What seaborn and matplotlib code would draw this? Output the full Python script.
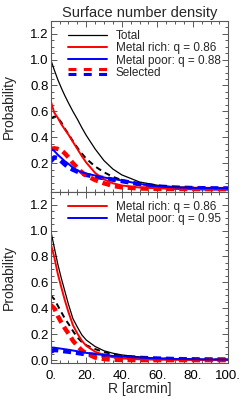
import matplotlib
matplotlib.use("Agg")
import matplotlib.pyplot as plt
import seaborn as sns
from matplotlib.lines import Line2D
from matplotlib.legend_handler import HandlerBase
from matplotlib.ticker import MultipleLocator, FixedLocator

sns.set_style("ticks")
plt.rcParams["font.family"] = ["Liberation Sans", "DejaVu Sans"]

# radius grid [arcmin]
r = [0, 2, 4, 6, 8, 10, 12.5, 15, 17.5, 20, 25, 30, 35, 40, 50, 60, 70, 80, 90, 100]

# upper panel
total_top = [1.00, 0.92, 0.845, 0.78, 0.72, 0.665, 0.60, 0.54, 0.475, 0.415, 0.31, 0.22, 0.155, 0.11, 0.055, 0.03, 0.018, 0.012, 0.008, 0.006]
rich_top = [0.68, 0.59, 0.55, 0.50, 0.46, 0.42, 0.365, 0.31, 0.255, 0.205, 0.125, 0.075, 0.045, 0.028, 0.012, 0.006, 0.004, 0.003, 0.002, 0.002]
poor_top = [0.31, 0.295, 0.265, 0.24, 0.215, 0.195, 0.165, 0.145, 0.13, 0.12, 0.105, 0.09, 0.078, 0.067, 0.04, 0.022, 0.013, 0.009, 0.007, 0.006]
total_sel_top = [0.545, 0.56, 0.55, 0.515, 0.465, 0.425, 0.37, 0.32, 0.275, 0.235, 0.175, 0.13, 0.095, 0.07, 0.04, 0.022, 0.013, 0.009, 0.007, 0.006]
rich_sel_top = [0.31, 0.315, 0.31, 0.30, 0.275, 0.245, 0.20, 0.165, 0.13, 0.105, 0.07, 0.045, 0.025, 0.014, 0.005, 0.002, 0.001, 0.001, 0.0, 0.0]
poor_sel_top = [0.215, 0.245, 0.24, 0.215, 0.19, 0.168, 0.15, 0.135, 0.12, 0.11, 0.095, 0.085, 0.073, 0.062, 0.038, 0.02, 0.012, 0.008, 0.006, 0.005]

# lower panel
total_bot = [1.00, 0.87, 0.74, 0.63, 0.53, 0.43, 0.32, 0.255, 0.195, 0.155, 0.105, 0.072, 0.053, 0.04, 0.024, 0.015, 0.01, 0.008, 0.006, 0.005]
rich_bot = [0.90, 0.795, 0.665, 0.56, 0.46, 0.37, 0.27, 0.205, 0.15, 0.11, 0.065, 0.038, 0.022, 0.013, 0.006, 0.003, 0.002, 0.001, 0.001, 0.001]
poor_bot = [0.098, 0.096, 0.092, 0.088, 0.084, 0.08, 0.074, 0.068, 0.062, 0.056, 0.047, 0.039, 0.032, 0.027, 0.019, 0.013, 0.009, 0.007, 0.005, 0.004]
total_sel_bot = [0.50, 0.47, 0.42, 0.37, 0.32, 0.28, 0.225, 0.175, 0.14, 0.115, 0.085, 0.062, 0.046, 0.035, 0.02, 0.013, 0.009, 0.007, 0.005, 0.004]
rich_sel_bot = [0.425, 0.40, 0.34, 0.29, 0.245, 0.205, 0.15, 0.11, 0.075, 0.052, 0.02, 0.008, 0.003, 0.001, 0.0, 0.0, 0.0, 0.0, 0.0, 0.0]
poor_sel_bot = [0.065, 0.078, 0.076, 0.072, 0.068, 0.065, 0.06, 0.055, 0.05, 0.046, 0.04, 0.034, 0.029, 0.024, 0.017, 0.012, 0.008, 0.006, 0.005, 0.004]

labels_top = ["Total", "Metal rich: q = 0.86", "Metal poor: q = 0.88", "Selected"]
labels_bot = ["Metal rich: q = 0.86", "Metal poor: q = 0.95"]
xtick_labels = ["0.", "20.", "40.", "60.", "80.", "100."]


class StackedDash(HandlerBase):
    def create_artists(self, legend, orig_handle, xdescent, ydescent,
                       width, height, fontsize, trans):
        out = []
        for i, c in enumerate(["red", "blue"]):
            y = height / 2 - ydescent + 1.6 - 3.2 * i
            ln = Line2D([-xdescent, width - xdescent], [y, y], color=c,
                        lw=2.2, ls=(0, (2.6, 2.4)))
            ln.set_transform(trans)
            out.append(ln)
        return out


def draw_panel(ax, total, rich, poor, total_sel, rich_sel, poor_sel):
    sns.lineplot(x=r, y=total_sel, ax=ax, color="black", lw=1.4, ls=(0, (3, 2.2)))
    sns.lineplot(x=r, y=poor_sel, ax=ax, color="blue", lw=3.2, ls=(0, (1.8, 1.1)))
    sns.lineplot(x=r, y=rich_sel, ax=ax, color="red", lw=3.2, ls=(0, (1.8, 1.1)))
    sns.lineplot(x=r, y=total, ax=ax, color="black", lw=0.9)
    sns.lineplot(x=r, y=rich, ax=ax, color="red", lw=1.4)
    sns.lineplot(x=r, y=poor, ax=ax, color="blue", lw=1.4)
    ax.set_xlim(0, 100)
    ax.set_ylim(-0.02, 1.3)
    ax.xaxis.set_major_locator(MultipleLocator(20))
    ax.xaxis.set_minor_locator(MultipleLocator(5))
    ax.yaxis.set_minor_locator(MultipleLocator(0.05))
    ax.tick_params(which="both", direction="in", top=True, right=True,
                   colors="0.35", labelcolor="black", labelsize=9.5, width=0.7)
    ax.tick_params(which="major", length=4.5)
    ax.tick_params(which="minor", length=2.5)
    ax.tick_params(axis="y", which="both", pad=1.5)
    ax.tick_params(axis="x", which="both", pad=5)
    for s in ax.spines.values():
        s.set_color("0.35")
        s.set_linewidth(0.8)
    ax.set_ylabel("Probability", fontsize=10, labelpad=10)


fig = plt.figure(figsize=(2.45, 4.03), dpi=100)
ax1 = fig.add_axes([0.207, 0.5243, 0.725, 0.4243])
ax2 = fig.add_axes([0.207, 0.1000, 0.725, 0.4243])

draw_panel(ax1, total_top, rich_top, poor_top, total_sel_top, rich_sel_top, poor_sel_top)
draw_panel(ax2, total_bot, rich_bot, poor_bot, total_sel_bot, rich_sel_bot, poor_sel_bot)

ax1.yaxis.set_major_locator(FixedLocator([0.2, 0.4, 0.6, 0.8, 1.0, 1.2]))
ax1.set_yticklabels(["0.2", "0.4", "0.6", "0.8", "1.0", "1.2"])
ax1.set_xticklabels([])
ax1.set_title("Surface number density", fontsize=10.5, pad=3)

ax2.yaxis.set_major_locator(FixedLocator([0.0, 0.2, 0.4, 0.6, 0.8, 1.0, 1.2]))
ax2.set_yticklabels(["0.0", "0.2", "0.4", "0.6", "0.8", "1.0", "1.2"])
ax2.set_xticks([0, 20, 40, 60, 80, 100])
ax2.set_xticklabels(xtick_labels)
ax2.set_xlabel("R [arcmin]", fontsize=10, labelpad=0)

h_top = [Line2D([], [], color="black", lw=0.9),
         Line2D([], [], color="red", lw=1.4),
         Line2D([], [], color="blue", lw=1.4),
         Line2D([], [], color="red")]
ax1.legend(h_top, labels_top, loc="upper left", bbox_to_anchor=(0.1, 0.945),
           frameon=False, fontsize=8.5, handlelength=3.3, handletextpad=0.7,
           labelspacing=0.02, borderpad=0, borderaxespad=0,
           handler_map={h_top[3]: StackedDash()})

h_bot = [Line2D([], [], color="red", lw=1.4),
         Line2D([], [], color="blue", lw=1.4)]
ax2.legend(h_bot, labels_bot, loc="upper left", bbox_to_anchor=(0.1, 0.945),
           frameon=False, fontsize=8.5, handlelength=3.3, handletextpad=0.7,
           labelspacing=0.02, borderpad=0, borderaxespad=0)

fig.savefig("out.png", dpi=100)
plt.close(fig)
